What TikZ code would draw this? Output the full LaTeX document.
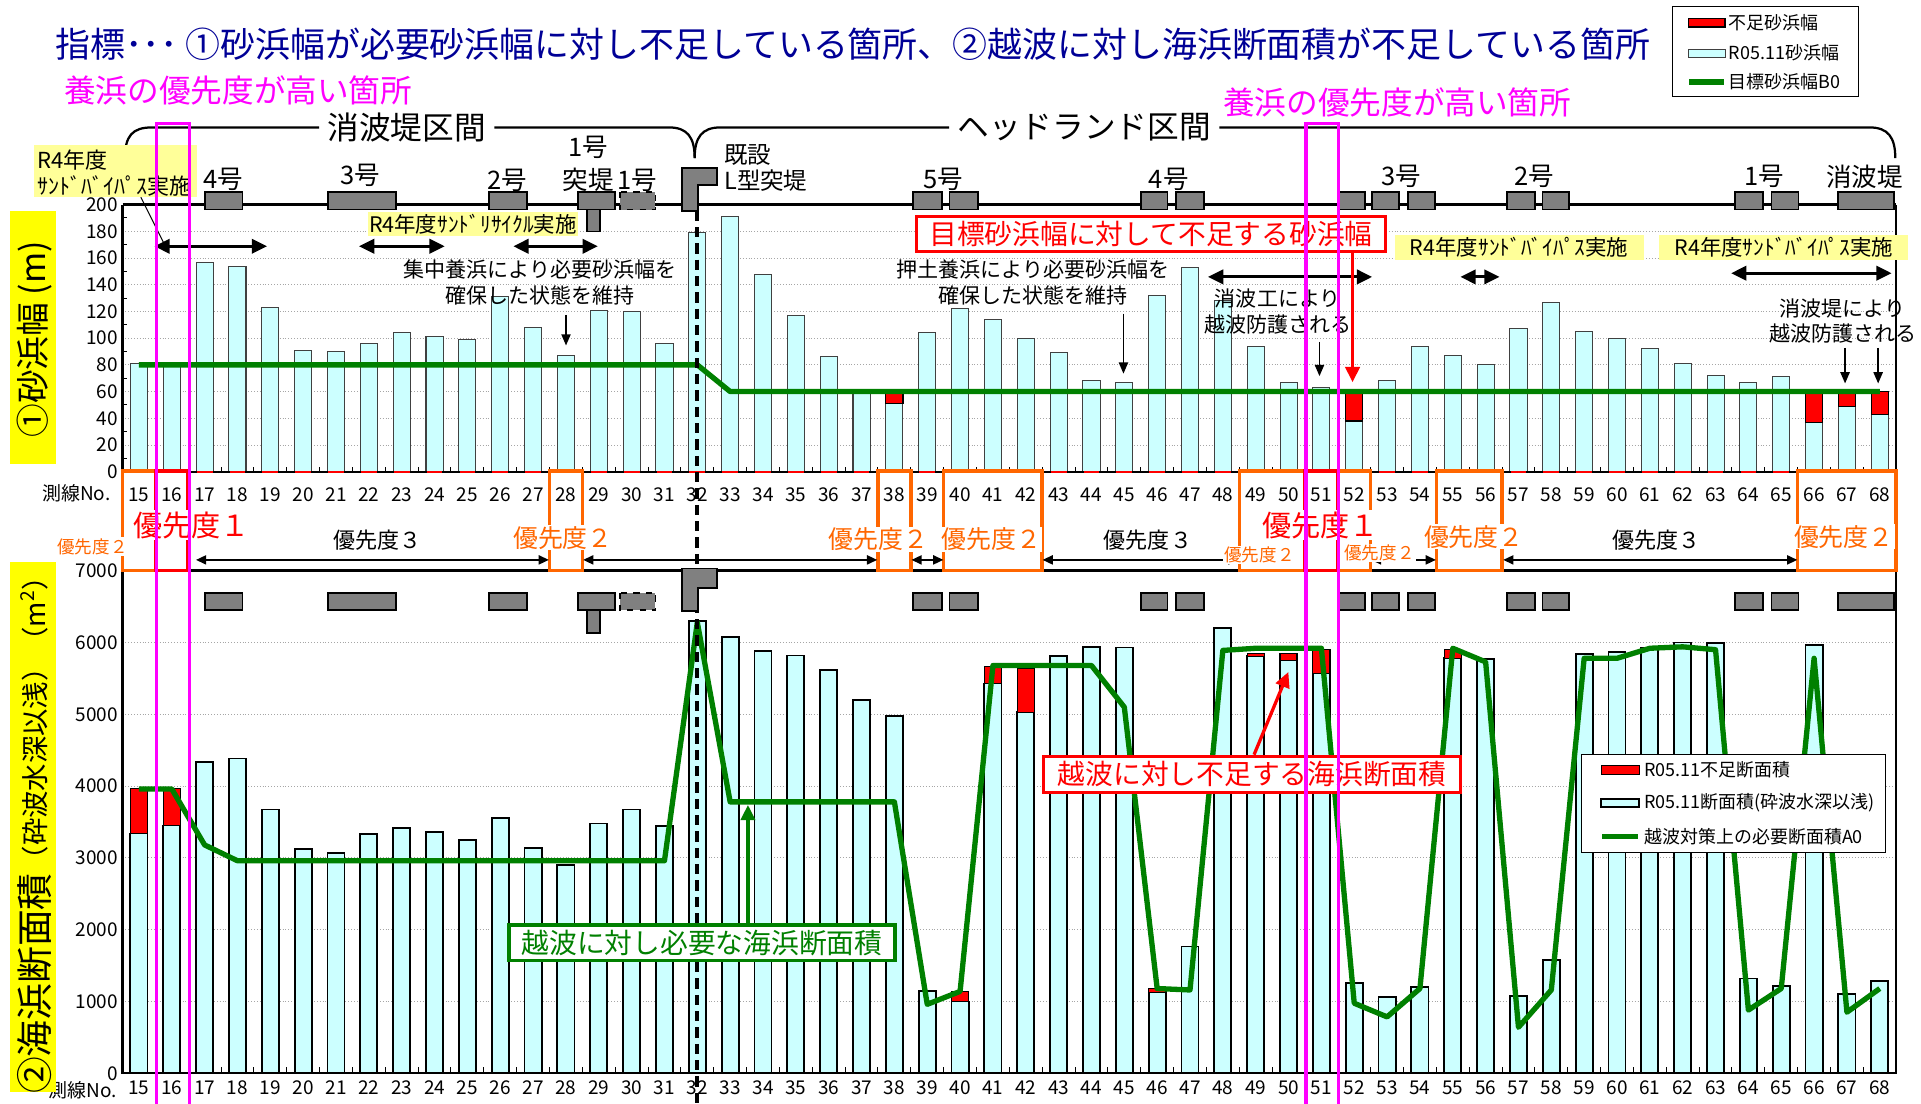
\documentclass[tikz,border=0pt]{standalone}
\usepackage{fontspec}
\setmainfont{Noto Sans CJK JP}
\usetikzlibrary{arrows.meta}

\definecolor{titleblue}{RGB}{0,0,150}
\definecolor{barcyan}{RGB}{204,255,255}
\definecolor{lackred}{RGB}{255,0,0}
\definecolor{targetgreen}{RGB}{0,128,0}
\definecolor{prioorange}{RGB}{255,102,0}
\definecolor{hlmagenta}{RGB}{255,0,255}
\definecolor{notebg}{RGB}{255,255,153}
\definecolor{axisyellow}{RGB}{255,255,0}
\definecolor{bwgray}{RGB}{128,128,128}

\tikzset{
  bar/.style={draw=black!75, line width=0.5pt, fill=barcyan},
  barlow/.style={draw=black, line width=0.9pt, fill=barcyan},
  lack/.style={draw=black, line width=0.6pt, fill=lackred},
  target/.style={draw=targetgreen, line width=2.6pt, line join=round},
  bwall/.style={draw=black, line width=0.9pt, fill=bwgray},
  gridl/.style={draw=black!35, densely dotted, line width=0.4pt},
  ticklab/.style={font=\fontsize{9.3}{11}\selectfont, inner sep=0.5pt},
  blabel/.style={font=\fontsize{12.5}{14}\selectfont, inner sep=0.5pt},
  note/.style={font=\fontsize{10.3}{12.6}\selectfont, align=center, inner sep=0.5pt},
  yellownote/.style={fill=notebg, font=\fontsize{10.5}{12}\selectfont, inner sep=0pt},
  dblarrow/.style={{Triangle[width=7pt,length=7.5pt]}-{Triangle[width=7pt,length=7.5pt]}, line width=1.5pt},
  downarrow/.style={-{Triangle[width=4.5pt,length=5.5pt]}, line width=0.8pt},
  callarrow/.style={-{Triangle[width=7pt,length=7.5pt]}, line width=1.6pt},
  prio2/.style={draw=prioorange, line width=1.7pt},
  prio1/.style={draw=lackred, line width=1.7pt},
  prioarrow/.style={{Triangle[width=4.5pt,length=5pt]}-{Triangle[width=4.5pt,length=5pt]}, line width=0.8pt},
  p2lab/.style={text=prioorange, fill=white, font=\fontsize{12.2}{14}\selectfont, inner sep=0.5pt},
  p2small/.style={text=prioorange, fill=white, font=\fontsize{8.6}{10}\selectfont, inner sep=0.5pt},
  p1lab/.style={text=lackred, fill=white, font=\fontsize{14.3}{16}\selectfont, inner sep=0.5pt},
  p3lab/.style={font=\fontsize{10.8}{13}\selectfont, inner sep=0.5pt},
  hilite/.style={draw=hlmagenta, line width=1.5pt},
  callout/.style={fill=white, line width=1.6pt, font=\fontsize{13.6}{16}\selectfont, inner sep=0pt},
  legtext/.style={font=\fontsize{8.8}{10}\selectfont, anchor=west, inner sep=0.5pt},
}

\begin{document}
\begin{tikzpicture}[x=0.6pt,y=0.6pt,yscale=-1,xscale=1]
\useasboundingbox (0,0) rectangle (1568,901);

% Title and captions
\node[anchor=west, text=titleblue, font=\fontsize{17.1}{19}\selectfont, inner sep=0pt] (title) at (45,36) {指標･･･ ①砂浜幅が必要砂浜幅に対し不足している箇所、②越波に対し海浜断面積が不足している箇所};
\node[anchor=west, text=hlmagenta, font=\fontsize{15.5}{17}\selectfont, inner sep=0pt] (hpA) at (52,73.5) {養浜の優先度が高い箇所};
\node[anchor=west, text=hlmagenta, font=\fontsize{15.5}{17}\selectfont, inner sep=0pt] (hpB) at (998,84) {養浜の優先度が高い箇所};

% Section brackets
\node[font=\fontsize{15.5}{17}\selectfont, inner sep=4pt] (secA) at (332,104) {消波堤区間};
\node[font=\fontsize{15.5}{17}\selectfont, inner sep=4pt] (secB) at (885,104) {ヘッドランド区間};
\coordinate (secmid) at (567,129);
\draw[line width=1.1pt] (102,129) .. controls (102,111) and (108,104) .. (124,104) -- (secA.west);
\draw[line width=1.1pt] (secA.east) -- (546,104) .. controls (561,104) and (567,112) .. (secmid);
\draw[line width=1.1pt] (secmid) .. controls (567,112) and (573,104) .. (588,104) -- (secB.west);
\draw[line width=1.1pt] (secB.east) -- (1526,104) .. controls (1541,104) and (1547,112) .. (1547,129);

% Top chart: sand beach width
\begin{scope}[shift={(113.4,385)}, xscale=26.81, yscale=-1.09]
  \foreach \v in {20,40,...,180} \draw[gridl] (-0.5,\v) -- (53.5,\v);
  \foreach \v [count=\i from 0] in {81,80,157,154,123,91,90,96,104,101,99,131,108,87,121,120,96,179,191,148,117,86,59,51,104,122,114,100,89,68,67,132,153,128,94,67,63,38,68,94,87,80,107,127,105,100,92,81,72,67,71,37,49,43}
    \draw[bar] (\i-0.26,0) rectangle (\i+0.26,\v);
  \foreach \i/\lo/\hi in {23/51/60,37/38/60,51/37/60,52/49/60,53/43/60}
    \draw[lack] (\i-0.26,\lo) rectangle (\i+0.26,\hi);
  \draw[target] (0,80) -- (17,80) -- (18,60) -- (53,60);
  \draw[line width=1pt] (-0.5,200) -- (-0.5,0) -- (53.5,0) -- (53.5,200);
  \draw[line width=1.3pt] (-0.5,200) -- (53.5,200);
  \foreach \i in {0,...,53} {
    \draw[lackred, line width=1.1pt] (\i-0.24,0) -- (\i+0.24,0);
    \draw[line width=0.5pt] (\i+0.5,0) -- (\i+0.5,3.5);
  }
  \foreach \v in {10,30,...,190} \draw[line width=0.5pt] (-0.5,\v) -- (-0.35,\v);
  \foreach \v in {0,20,...,200} \node[ticklab, anchor=east] (ty\v) at (-0.6,\v) {\v};
  \foreach \lab [count=\i from 0] in {15,...,68} \node[ticklab] (tx\lab) at (\i,-17.4) {\lab};
  \node[ticklab] (txhead) at (-1.91,-16.5) {測線No.};
\end{scope}

% Bottom chart: beach cross-section area
\begin{scope}[shift={(113.4,876)}, xscale=26.81, yscale=-0.0586]
  \foreach \v in {1000,2000,...,6000} \draw[gridl] (-0.5,\v) -- (53.5,\v);
  \foreach \v [count=\i from 0] in {3340,3450,4330,4385,3675,3120,3070,3330,3415,3365,3250,3550,3140,2900,3480,3675,3440,6300,6080,5877,5820,5620,5200,4975,1140,1000,5430,5030,5810,5940,5930,1126,1765,6200,5810,5750,5570,1260,1060,1200,5780,5770,1080,1575,5840,5870,5920,6000,5990,1320,1210,5970,1100,1280}
    \draw[barlow] (\i-0.26,0) rectangle (\i+0.26,\v);
  \foreach \i/\lo/\hi in {0/3340/3967,1/3450/3967,25/1000/1140,26/5430/5670,27/5030/5640,31/1126/1185,34/5810/5843,35/5750/5850,36/5570/5900,40/5780/5900}
    \draw[lack] (\i-0.26,\lo) rectangle (\i+0.26,\hi);
  \draw[target] (0,3960) \foreach \v [count=\i] in {3960,3180,2960,2960,2960,2960,2960,2960,2960,2960,2960,2960,2960,2960,2960,2960,6280,3780,3780,3780,3780,3780,3780,960,1140,5680,5680,5680,5680,5100,1180,1160,5890,5920,5920,5920,975,785,1180,5920,5730,640,1160,5780,5780,5920,5940,5900,880,1180,5780,850,1180} { -- (\i,\v) };
  \draw[line width=1pt] (-0.5,7000) -- (-0.5,0) -- (53.5,0) -- (53.5,7000);
  \draw[line width=1.3pt] (-0.5,7000) -- (53.5,7000);
  \foreach \i in {0,...,53} \draw[line width=0.5pt] (\i+0.5,0) -- (\i+0.5,80);
  \foreach \v in {0,1000,...,7000} \node[ticklab, anchor=east] (by\v) at (-0.6,\v) {\v};
  \foreach \lab [count=\i from 0] in {15,...,68} \node[ticklab] (bx\lab) at (\i,-205) {\lab};
  \node[ticklab] (bxhead) at (-1.7,-240) {測線No.};
\end{scope}

% Boundary of the L-shaped groin (survey line 32)
\draw[line width=1.8pt, dash pattern=on 5pt off 3pt] (568.9,172) -- (568.9,901);

% Breakwaters above both charts
\foreach \a/\b in {167/198,268/323,399/430,472/502,745/769,775/798,931/953,960/983,1092/1114,1120/1142,1149/1171,1230/1253,1259/1281,1416/1439,1446/1468,1500/1546} {
  \draw[bwall] (\a,157) rectangle (\b,171);
  \draw[bwall] (\a,484) rectangle (\b,498);
}
\draw[bwall, dashed] (506,157) rectangle (535,171);
\draw[bwall, dashed] (506,484) rectangle (535,498);
\draw[bwall] (479,171) rectangle (490,189);
\draw[bwall] (479,498) rectangle (490,517);
\draw[bwall] (557,137) -- (585,137) -- (585,151) -- (570,151) -- (570,172) -- (557,172) -- cycle;
\draw[bwall] (557,464) -- (585,464) -- (585,480) -- (570,480) -- (570,499) -- (557,499) -- cycle;

% Breakwater names
\node[blabel] (bn4) at (182,146) {4号};
\node[blabel] (bn3) at (294,143) {3号};
\node[blabel] (bn2) at (414,147) {2号};
\node[blabel] (bn1a) at (480,120) {1号};
\node[blabel] (bn1b) at (480,147) {突堤};
\node[blabel] (bn1c) at (520,147) {1号};
\node[font=\fontsize{11.5}{13}\selectfont, anchor=west, inner sep=0.5pt] (lgA) at (590,126.5) {既設};
\node[font=\fontsize{11.5}{13}\selectfont, anchor=west, inner sep=0.5pt] (lgB) at (590,147) {L型突堤};
\node[blabel] (hn5) at (770,146) {5号};
\node[blabel] (hn4) at (954,146) {4号};
\node[blabel] (hn3) at (1144,144) {3号};
\node[blabel] (hn2) at (1252,144) {2号};
\node[blabel] (hn1) at (1440,144) {1号};
\node[blabel] (hnw) at (1522,144) {消波堤};

% Axis titles
\fill[axisyellow] (8,172) rectangle (46,379);
\node[rotate=90, font=\fontsize{16.5}{18}\selectfont, inner sep=0pt] (ylabA) at (28,277) {①砂浜幅 (m)};
\fill[axisyellow] (8,459) rectangle (46,891);
\node[rotate=90, inner sep=0pt] (ylabB) at (28,676) {\fontsize{18}{20}\selectfont ②海浜断面積\raisebox{1.5pt}{\fontsize{13.4}{15}\selectfont（砕波水深以浅）（m\textsuperscript{2}）}};

% Notes on the top chart
\fill[notebg] (28,118) rectangle (161,161);
\node[anchor=west, font=\fontsize{10.8}{12}\selectfont, inner sep=0pt] (sbpA1) at (30,131) {R4年度};
\node[anchor=west, font=\fontsize{10.8}{12}\selectfont, inner sep=0pt] (sbpA2) at (30,152) {ｻﾝﾄﾞﾊﾞｲﾊﾟｽ実施};
\coordinate (sbpA3) at (115,161);
\coordinate (sbpA4) at (135,201);
\draw[line width=0.5pt] (sbpA3) -- (sbpA4);

\node[yellownote, minimum width=103pt, minimum height=12pt] (srcy) at (386,183) {R4年度ｻﾝﾄﾞﾘｻｲｸﾙ実施};
\node[yellownote, minimum width=122pt, minimum height=12pt] (sbpB) at (1240,202) {R4年度ｻﾝﾄﾞﾊﾞｲﾊﾟｽ実施};
\node[yellownote, minimum width=122pt, minimum height=12pt] (sbpC) at (1456,202) {R4年度ｻﾝﾄﾞﾊﾞｲﾊﾟｽ実施};

\coordinate (daA1) at (126,201); \coordinate (daA2) at (218,201);
\coordinate (daB1) at (293,201); \coordinate (daB2) at (363,201);
\coordinate (daC1) at (419,201); \coordinate (daC2) at (488,201);
\coordinate (daD1) at (986,226); \coordinate (daD2) at (1120,226);
\coordinate (daE1) at (1192,226); \coordinate (daE2) at (1224,226);
\coordinate (daF1) at (1413,223); \coordinate (daF2) at (1544,223);
\draw[dblarrow] (daA1) -- (daA2);
\draw[dblarrow] (daB1) -- (daB2);
\draw[dblarrow] (daC1) -- (daC2);
\draw[dblarrow] (daD1) -- (daD2);
\draw[dblarrow] (daE1) -- (daE2);
\draw[dblarrow] (daF1) -- (daF2);

\node[note] (noteA) at (441,230.5) {集中養浜により必要砂浜幅を\\確保した状態を維持};
\node[note] (noteB) at (843,230.5) {押土養浜により必要砂浜幅を\\確保した状態を維持};
\node[note] (noteC) at (1043,254) {消波工により\\越波防護される};
\node[note] (noteD) at (1504,262) {消波堤により\\越波防護される};

\coordinate (arA1) at (462,257); \coordinate (arA2) at (462,282);
\coordinate (arB1) at (917,256); \coordinate (arB2) at (917,305);
\coordinate (arC1) at (1077,279); \coordinate (arC2) at (1077,307);
\coordinate (arD1) at (1506,284); \coordinate (arD2) at (1506,313);
\coordinate (arE1) at (1533,284); \coordinate (arE2) at (1533,313);
\draw[downarrow] (arA1) -- (arA2);
\draw[downarrow] (arB1) -- (arB2);
\draw[downarrow] (arC1) -- (arC2);
\draw[downarrow] (arD1) -- (arD2);
\draw[downarrow] (arE1) -- (arE2);

\node[callout, draw=lackred, text=lackred, minimum width=230pt, minimum height=16.8pt] (lackbox) at (939.5,191) {目標砂浜幅に対して不足する砂浜幅};
\coordinate (lacktip) at (1104,312);
\draw[callarrow, lackred] (lackbox.south -| lacktip) -- (lacktip);

% Priority boxes between the charts
\draw[prio2] (100,384.5) rectangle (126.8,465.5);
\draw[prio2] (448.5,384.5) rectangle (475.3,465.5);
\draw[prio2] (716.6,384.5) rectangle (743.4,465.5);
\draw[prio2] (770.2,384.5) rectangle (850.6,465.5);
\draw[prio2] (1011.6,384.5) rectangle (1065.2,465.5);
\draw[prio2] (1092,384.5) rectangle (1118.8,465.5);
\draw[prio2] (1172.4,384.5) rectangle (1226,465.5);
\draw[prio2] (1467.3,384.5) rectangle (1547.7,465.5);
\draw[prio1] (126.8,384.5) rectangle (153.6,465.5);
\draw[prio1] (1065.2,384.5) rectangle (1092,465.5);

\coordinate (p3A1) at (160,457); \coordinate (p3A2) at (448,457);
\coordinate (p3B1) at (476,457); \coordinate (p3B2) at (716,457);
\coordinate (p3C1) at (744,457); \coordinate (p3C2) at (770,457);
\coordinate (p3D1) at (851,457); \coordinate (p3D2) at (1011,457);
\coordinate (p3E1) at (1119,457); \coordinate (p3E2) at (1172,457);
\coordinate (p3F1) at (1227,457); \coordinate (p3F2) at (1467,457);
\draw[prioarrow] (p3A1) -- (p3A2);
\draw[prioarrow] (p3B1) -- (p3B2);
\draw[prioarrow] (p3C1) -- (p3C2);
\draw[prioarrow] (p3D1) -- (p3D2);
\draw[prioarrow] (p3E1) -- (p3E2);
\draw[prioarrow] (p3F1) -- (p3F2);

\node[p2small] (pr15) at (75.5,446) {優先度２};
\node[p1lab] (pr16) at (156.5,428.5) {優先度１};
\node[p3lab] (prA) at (308,441) {優先度３};
\node[p2lab] (pr28) at (459.5,439) {優先度２};
\node[p2lab] (pr38) at (717,440) {優先度２};
\node[p2lab] (pr40) at (809,440) {優先度２};
\node[p3lab] (prB) at (937,441) {優先度３};
\node[p2small] (pr49) at (1028,453) {優先度２};
\node[p1lab] (pr51) at (1078,428.5) {優先度１};
\node[p2small] (pr52) at (1126,451.5) {優先度２};
\node[p2lab] (pr55) at (1203,438) {優先度２};
\node[p3lab] (prC) at (1352,441) {優先度３};
\node[p2lab] (pr66) at (1505,438) {優先度２};

% Notes on the bottom chart
\node[callout, draw=targetgreen, text=targetgreen, minimum width=189pt, minimum height=17.4pt] (needbox) at (573,769.5) {越波に対し必要な海浜断面積};
\coordinate (needtip) at (610.5,657);
\draw[callarrow, targetgreen] (needbox.north -| needtip) -- (needtip);

\node[callout, draw=lackred, text=lackred, minimum width=204pt, minimum height=17.7pt] (shortbox) at (1022,632) {越波に対し不足する海浜断面積};
\coordinate (shorttail) at (1023.6,616);
\coordinate (shorttip) at (1051.6,548.5);
\draw[callarrow, lackred] (shorttail) -- (shorttip);

% Highlighted survey lines
\draw[hilite] (127.5,901) -- (127.5,101) -- (154.5,101) -- (154.5,901);
\draw[hilite] (1066,901) -- (1066,101) -- (1092.5,101) -- (1092.5,901);

% Legends
\draw[line width=0.6pt, fill=white] (1365,5) rectangle (1517,79);
\draw[lack] (1378,15) rectangle (1408,22);
\draw[bar] (1378,40) rectangle (1408,47);
\draw[target] (1379,67) -- (1407,67);
\node[legtext] (lgtA) at (1410,18.5) {不足砂浜幅};
\node[legtext] (lgtB) at (1410,43) {R05.11砂浜幅};
\node[legtext] (lgtC) at (1410,67) {目標砂浜幅B0};

\draw[line width=0.6pt, fill=white] (1291,616) rectangle (1539,696);
\draw[lack] (1307,625) rectangle (1338,632);
\draw[barlow] (1307,652) rectangle (1338,659);
\draw[target] (1308,683) -- (1337,683);
\node[legtext] (lgbA) at (1341,628.5) {R05.11不足断面積};
\node[legtext] (lgbB) at (1341,655.5) {R05.11断面積(砕波水深以浅)};
\node[legtext] (lgbC) at (1341,683) {越波対策上の必要断面積A0};

\end{tikzpicture}
\end{document}
